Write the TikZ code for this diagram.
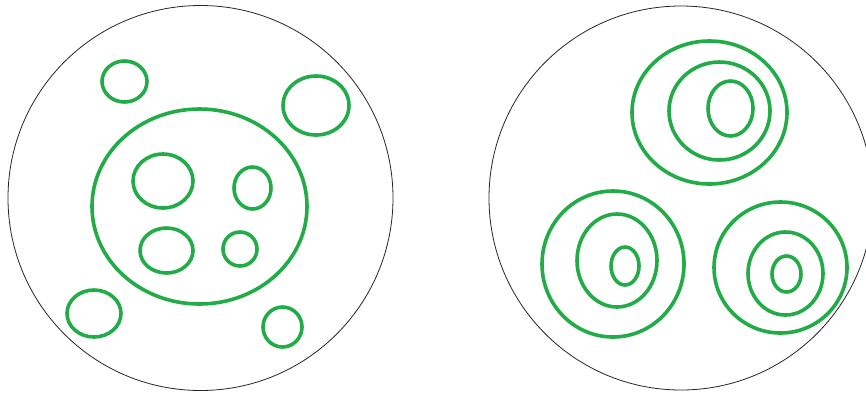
\documentclass[tikz,border=0pt]{standalone}
\usepackage{tikz}

\definecolor{paintgreen}{RGB}{34,172,72}

\begin{document}
\begin{tikzpicture}[
    x=1pt, y=-1pt,
    cell/.style={draw=black!85, line width=0.8pt},
    blob/.style={draw=paintgreen, line width=3.6pt}
]
\clip (0,0) rectangle (866,392);
\fill[white] (0,0) rectangle (866,392);

% left cell
\draw[cell] (200.5,198) circle (192.5);
\draw[blob] (199.5,206.5) ellipse [x radius=107.5, y radius=97.5];
\draw[blob] (124.5,81.5) ellipse [x radius=22.5, y radius=20.5];
\draw[blob] (316,105.5) ellipse [x radius=33, y radius=29.5];
\draw[blob] (94,313.5) ellipse [x radius=27, y radius=23.5];
\draw[blob] (282.5,327) ellipse [x radius=19.5, y radius=20];
\draw[blob] (163,181) ellipse [x radius=30, y radius=27];
\draw[blob] (252.5,188) ellipse [x radius=18.5, y radius=21];
\draw[blob] (166.5,250.5) ellipse [x radius=26.5, y radius=22.5];
\draw[blob] (240,249) ellipse [x radius=17, y radius=17];

% right cell
\draw[cell] (681,198) circle (192);
\draw[blob] (709.5,112.5) ellipse [x radius=77.5, y radius=71.5];
\draw[blob] (719.5,111) ellipse [x radius=50.5, y radius=49];
\draw[blob] (730.5,108.5) ellipse [x radius=22.5, y radius=27.5];

\draw[blob] (613,264) ellipse [x radius=71, y radius=73];
\draw[blob] (617,260.5) ellipse [x radius=40, y radius=46.5];
\draw[blob] (625,266) ellipse [x radius=14, y radius=19];

\draw[blob] (780.5,267.5) ellipse [x radius=66.5, y radius=65.5];
\draw[blob] (785.5,273.5) ellipse [x radius=37.5, y radius=41.5];
\draw[blob] (786.5,274) ellipse [x radius=14.5, y radius=18];
\end{tikzpicture}
\end{document}
